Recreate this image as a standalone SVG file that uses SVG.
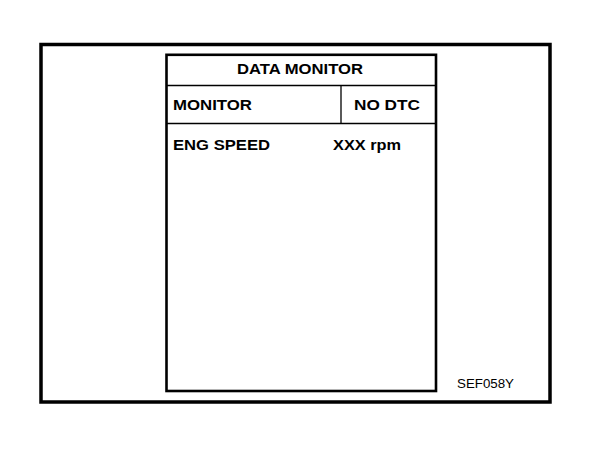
<svg xmlns="http://www.w3.org/2000/svg" width="608" height="454" viewBox="0 0 608 454">
<style>
.t{font-family:"Liberation Sans",Arial,sans-serif;font-weight:bold;font-size:14.5px;fill:#000}
.c{font-family:"Liberation Sans",Arial,sans-serif;font-size:12px;fill:#000}
.f{fill:none;stroke:#000}
</style>
<rect width="608" height="454" fill="#fff"/>
<g id="frame">
<rect class="f" x="41" y="44.5" width="509" height="357.5" stroke-width="3.5"/>
</g>
<g id="panel">
<rect class="f" x="166.5" y="54.8" width="269.5" height="336.2" stroke-width="2.6"/>
<line class="f" x1="166.5" y1="85.5" x2="436" y2="85.5" stroke-width="1.3"/>
<line class="f" x1="166.5" y1="123.5" x2="436" y2="123.5" stroke-width="1.3"/>
<line class="f" x1="341" y1="85.5" x2="341" y2="123.5" stroke-width="1.3"/>
<text class="t" x="237" y="73.5" textLength="126" lengthAdjust="spacingAndGlyphs">DATA MONITOR</text>
<text class="t" x="173" y="110" textLength="79" lengthAdjust="spacingAndGlyphs">MONITOR</text>
<text class="t" x="354" y="110" textLength="66" lengthAdjust="spacingAndGlyphs">NO DTC</text>
<text class="t" x="173" y="149.5" textLength="97" lengthAdjust="spacingAndGlyphs">ENG SPEED</text>
<text class="t" x="333" y="149.5" textLength="68" lengthAdjust="spacingAndGlyphs">XXX rpm</text>
</g>
<g id="connectors"/>
<text class="c" x="457" y="387.5" textLength="57" lengthAdjust="spacingAndGlyphs">SEF058Y</text>
</svg>
